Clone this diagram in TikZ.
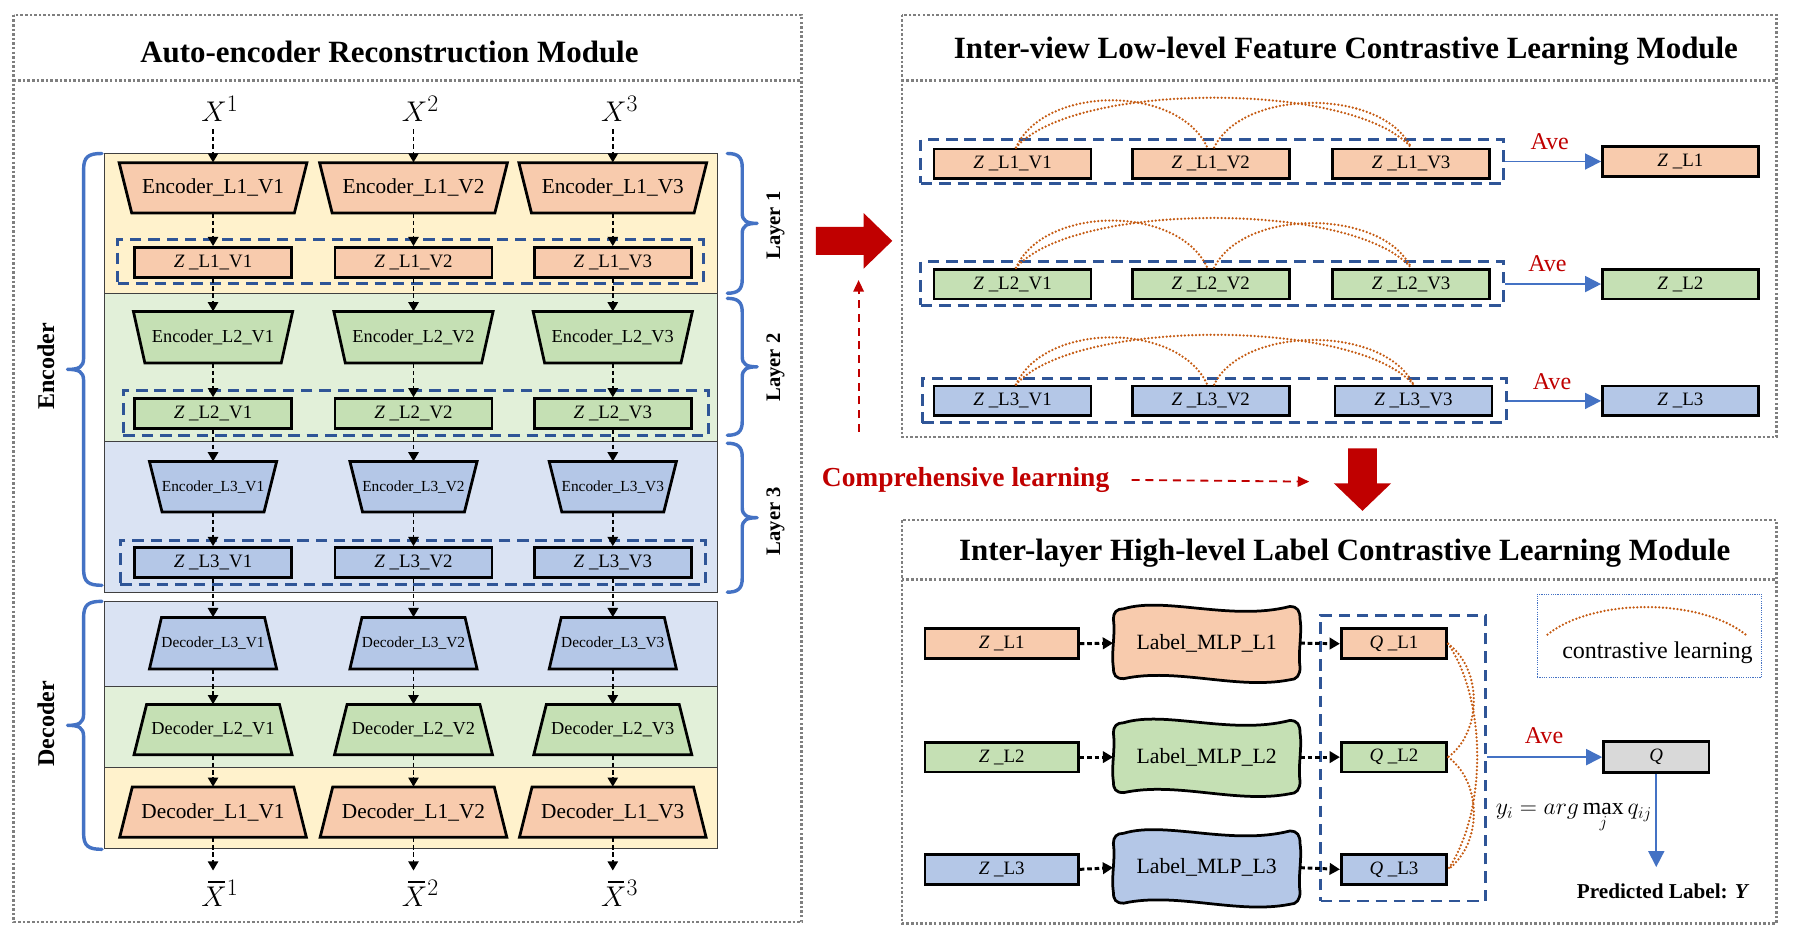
\documentclass[tikz,border=0pt]{standalone}
\usepackage{fontspec}
\setmainfont{Liberation Serif}
\usetikzlibrary{arrows.meta,calc}

\definecolor{peach}{HTML}{F8CBAD}
\definecolor{lgreen}{HTML}{C5E0B4}
\definecolor{lblue}{HTML}{B4C7E7}
\definecolor{bandY}{HTML}{FFF2CC}
\definecolor{bandG}{HTML}{E2F0D9}
\definecolor{bandB}{HTML}{DAE3F3}
\definecolor{dkblue}{HTML}{2F5597}
\definecolor{brblue}{HTML}{4472C4}
\definecolor{darkred}{HTML}{C00000}
\definecolor{orng}{HTML}{C55A11}
\definecolor{qgray}{HTML}{D9D9D9}
\definecolor{outgray}{HTML}{7F7F7F}

\tikzset{
 panel/.style={draw=outgray, line width=2.4pt, dash pattern=on 2.2pt off 1.8pt},
 band/.style={draw=black!75, line width=0.8pt},
 trapline/.style={draw=black, line width=2.4pt, line join=miter},
 zbox/.style={draw=black, line width=2.4pt, inner sep=0pt, minimum height=26pt, font=\fontsize{16.5}{18}\selectfont},
 grp/.style={draw=dkblue, line width=2.6pt, dash pattern=on 10pt off 6pt, inner sep=0pt},
 flow/.style={-{Triangle[length=8pt,width=9pt]}, line width=1.4pt, dash pattern=on 4pt off 2.5pt},
 thickflow/.style={-{Triangle[length=9pt,width=10pt]}, line width=2.6pt, dash pattern=on 4pt off 2.5pt},
 avearrow/.style={-{Triangle[length=14pt,width=14pt]}, draw=brblue, line width=1.5pt},
 bracepath/.style={draw=brblue, line width=3pt, line cap=round, line join=round},
 contra/.style={draw=orng, line width=2.2pt, dash pattern=on 0pt off 3.2pt, line cap=round},
 avetxt/.style={text=darkred, font=\fontsize{21}{24}\selectfont},
 titletxt/.style={font=\bfseries\fontsize{27}{30}\selectfont},
 layertxt/.style={font=\bfseries\fontsize{18}{20}\selectfont, rotate=90},
 sidetxt/.style={font=\bfseries\fontsize{21}{24}\selectfont, rotate=90},
 xlab/.style={font=\fontsize{24.88}{30}\selectfont, inner sep=0pt, anchor=base},
 barline/.style={draw=black, line width=1.3pt},
}

% trapezoid: name, cx, cy, top width, bottom width, height, fill, font size, text
\newcommand{\trapz}[9]{%
 \draw[trapline, fill=#7] ({#2-#4/2},{#3-#6/2}) -- ({#2+#4/2},{#3-#6/2}) -- ({#2+#5/2},{#3+#6/2}) -- ({#2-#5/2},{#3+#6/2}) -- cycle;
 \node[inner sep=0pt, minimum width=#4pt, minimum height=#6pt, font=\fontsize{#8}{#8}\selectfont] (#1) at (#2,#3) {#9};
}
% left brace: x, top, bottom
\newcommand{\leftbr}[3]{%
 \draw[bracepath] ({#1+16},#2) .. controls ({#1+4},#2) and (#1,{#2+3}) .. (#1,{#2+14}) -- (#1,{(#2+#3)/2-10}) .. controls (#1,{(#2+#3)/2-2}) and ({#1-4},{(#2+#3)/2}) .. ({#1-14},{(#2+#3)/2}) .. controls ({#1-4},{(#2+#3)/2}) and (#1,{(#2+#3)/2+2}) .. (#1,{(#2+#3)/2+10}) -- (#1,{#3-14}) .. controls (#1,{#3-3}) and ({#1+4},#3) .. ({#1+16},#3);
}
% right brace: x, top, bottom
\newcommand{\rightbr}[3]{%
 \draw[bracepath] ({#1-13},#2) .. controls ({#1-4},#2) and (#1,{#2+3}) .. (#1,{#2+12}) -- (#1,{(#2+#3)/2-9}) .. controls (#1,{(#2+#3)/2-2}) and ({#1+4},{(#2+#3)/2}) .. ({#1+13},{(#2+#3)/2}) .. controls ({#1+4},{(#2+#3)/2}) and (#1,{(#2+#3)/2+2}) .. (#1,{(#2+#3)/2+9}) -- (#1,{#3-12}) .. controls (#1,{#3-3}) and ({#1-4},#3) .. ({#1-13},#3);
}
% wavy MLP box: name, cx, cy, fill, text
\newcommand{\mlpbox}[5]{%
 \pgfmathsetmacro{\xa}{#2-81.5}\pgfmathsetmacro{\xb}{#2+81.5}%
 \pgfmathsetmacro{\ya}{#3-31}\pgfmathsetmacro{\yb}{#3+31}%
 \draw[trapline, line join=round, fill=#4] (\xa+9,\ya+1) .. controls (\xa+45,\ya-10) and (\xb-60,\ya+12) .. (\xb-9,\ya-1)
  .. controls (\xb-2,\ya-1) and (\xb,\ya+3) .. (\xb,\ya+10)
  .. controls (\xb+2,#3-8) and (\xb-2,#3+8) .. (\xb,\yb-10)
  .. controls (\xb,\yb-3) and (\xb-3,\yb+1) .. (\xb-9,\yb+1)
  .. controls (\xb-55,\yb+10) and (\xa+55,\yb-10) .. (\xa+9,\yb)
  .. controls (\xa+2,\yb) and (\xa,\yb-3) .. (\xa,\yb-10)
  .. controls (\xa-2,#3+8) and (\xa+2,#3-8) .. (\xa,\ya+10)
  .. controls (\xa,\ya+4) and (\xa+3,\ya+1) .. (\xa+9,\ya+1) -- cycle;
 \node[inner sep=0pt, minimum width=163pt, minimum height=62pt, font=\fontsize{19}{21}\selectfont] (#1) at (#2,#3) {#5};
}

\begin{document}
\begin{tikzpicture}[x=1pt,y=-1pt]
\useasboundingbox (0,0) rectangle (1568,819);
\fill[white] (0,0) rectangle (1568,819);

%================ LEFT PANEL =================
\draw[panel] (12,13) rectangle (700,805);
\draw[panel] (12,70) -- (700,70);
\node[titletxt] (t1) at (340,45) {Auto-encoder Reconstruction Module};

\draw[band, fill=bandY] (91.3,134) rectangle (626.5,256);
\draw[band, fill=bandG] (91.3,256) rectangle (626.5,385.6);
\draw[band, fill=bandB] (91.3,385.6) rectangle (626.5,517.2);
\draw[band, fill=bandB] (91.3,525.3) rectangle (626.5,599.5);
\draw[band, fill=bandG] (91.3,599.5) rectangle (626.5,670.2);
\draw[band, fill=bandY] (91.3,670.2) rectangle (626.5,740.6);

\node[grp, minimum width=511pt, minimum height=38.5pt] (g1) at (358.5,228.3) {};
\node[grp, minimum width=511pt, minimum height=39pt] (g2) at (363.3,360.5) {};
\node[grp, minimum width=511pt, minimum height=38.5pt] (g3) at (360.5,490.8) {};

% inputs
\node[xlab] (x1) at (192,106) {$X^1$};
\node[xlab] (x2) at (367,106) {$X^2$};
\node[xlab] (x3) at (541,106) {$X^3$};

% encoder L1
\trapz{e11}{186}{164}{164}{142}{44}{peach}{18.6}{Encoder\_L1\_V1}
\trapz{e12}{361}{164}{164}{142}{44}{peach}{18.6}{Encoder\_L1\_V2}
\trapz{e13}{535}{164}{164}{142}{44}{peach}{18.6}{Encoder\_L1\_V3}
\node[zbox, fill=peach, minimum width=137pt] (z11) at (186,229) {\textit{Z} \_L1\_V1};
\node[zbox, fill=peach, minimum width=137pt] (z12) at (361,229) {\textit{Z} \_L1\_V2};
\node[zbox, fill=peach, minimum width=137pt] (z13) at (535,229) {\textit{Z} \_L1\_V3};
% encoder L2
\trapz{e21}{186}{294.5}{139}{119}{45}{lgreen}{16}{Encoder\_L2\_V1}
\trapz{e22}{361}{294.5}{139}{119}{45}{lgreen}{16}{Encoder\_L2\_V2}
\trapz{e23}{535}{294.5}{139}{119}{45}{lgreen}{16}{Encoder\_L2\_V3}
\node[zbox, fill=lgreen, minimum width=137pt] (z21) at (186,361) {\textit{Z} \_L2\_V1};
\node[zbox, fill=lgreen, minimum width=137pt] (z22) at (361,361) {\textit{Z} \_L2\_V2};
\node[zbox, fill=lgreen, minimum width=137pt] (z23) at (535,361) {\textit{Z} \_L2\_V3};
% encoder L3
\trapz{e31}{186}{425}{111}{89}{44}{lblue}{13.4}{Encoder\_L3\_V1}
\trapz{e32}{361}{425}{111}{89}{44}{lblue}{13.4}{Encoder\_L3\_V2}
\trapz{e33}{535}{425}{111}{89}{44}{lblue}{13.4}{Encoder\_L3\_V3}
\node[zbox, fill=lblue, minimum width=137pt] (z31) at (186,491) {\textit{Z} \_L3\_V1};
\node[zbox, fill=lblue, minimum width=137pt] (z32) at (361,491) {\textit{Z} \_L3\_V2};
\node[zbox, fill=lblue, minimum width=137pt] (z33) at (535,491) {\textit{Z} \_L3\_V3};
% decoders
\trapz{d31}{186}{561.5}{90}{111}{45}{lblue}{13.4}{Decoder\_L3\_V1}
\trapz{d32}{361}{561.5}{90}{111}{45}{lblue}{13.4}{Decoder\_L3\_V2}
\trapz{d33}{535}{561.5}{90}{111}{45}{lblue}{13.4}{Decoder\_L3\_V3}
\trapz{d21}{186}{637}{116}{138}{44}{lgreen}{16}{Decoder\_L2\_V1}
\trapz{d22}{361}{637}{116}{138}{44}{lgreen}{16}{Decoder\_L2\_V2}
\trapz{d23}{535}{637}{116}{138}{44}{lgreen}{16}{Decoder\_L2\_V3}
\trapz{d11}{186}{709}{141}{163}{44}{peach}{18.6}{Decoder\_L1\_V1}
\trapz{d12}{361}{709}{141}{163}{44}{peach}{18.6}{Decoder\_L1\_V2}
\trapz{d13}{535}{709}{141}{163}{44}{peach}{18.6}{Decoder\_L1\_V3}

% outputs (X with a bar drawn above)
\node[xlab] (xb1) at (192,791) {$X^1$};
\node[xlab] (xb2) at (367,791) {$X^2$};
\node[xlab] (xb3) at (541,791) {$X^3$};

\foreach \k in {1,2,3}{
  \draw[flow] ($(e1\k.north |- x\k.base)+(0,7)$) -- (e1\k.north);
  \draw[flow] (e1\k.south) -- (z1\k.north);
  \draw[flow] (z1\k.south) -- (e2\k.north);
  \draw[flow] (e2\k.south) -- (z2\k.north);
  \draw[flow] (z2\k.south) -- (e3\k.north);
  \draw[flow] (e3\k.south) -- (z3\k.north);
  \draw[flow] (z3\k.south) -- (d3\k.north);
  \draw[flow] (d3\k.south) -- (d2\k.north);
  \draw[flow] (d2\k.south) -- (d1\k.north);
  \draw[flow] (d1\k.south) -- ($(d1\k.south |- xb\k.base)+(0,-31)$);
  \draw[barline] ($(xb\k.base)+(-10.5,-21)$) -- ++(14.5,0);
}

% braces
\leftbr{73}{134}{511}
\leftbr{73}{525}{741.5}
\node[sidetxt] (encl) at (40,320) {Encoder};
\node[sidetxt] (decl) at (40,632) {Decoder};
\rightbr{648}{134}{256}
\rightbr{648}{260.5}{380}
\rightbr{648}{387}{517}
\node[layertxt] (lay1) at (677,197) {Layer 1};
\node[layertxt] (lay2) at (677,321) {Layer 2};
\node[layertxt] (lay3) at (677,455) {Layer 3};

%================ TOP RIGHT PANEL =================
\draw[panel] (787.4,13) rectangle (1551,381.5);
\draw[panel] (787.4,70.5) -- (1551,70.5);
\node[titletxt] (t2) at (1175,45) {Inter-view Low-level Feature Contrastive Learning Module};

\node[grp, minimum width=509pt, minimum height=38pt] (h1) at (1058.5,141) {};
\node[grp, minimum width=509pt, minimum height=38pt] (h2) at (1058.5,247.5) {};
\node[grp, minimum width=510pt, minimum height=38.5pt] (h3) at (1060,349.8) {};

\node[zbox, fill=peach, minimum width=137pt] (v11) at (884,143) {\textit{Z} \_L1\_V1};
\node[zbox, fill=peach, minimum width=137pt] (v12) at (1057,143) {\textit{Z} \_L1\_V2};
\node[zbox, fill=peach, minimum width=137pt] (v13) at (1232,143) {\textit{Z} \_L1\_V3};
\node[zbox, fill=lgreen, minimum width=137pt] (v21) at (884,248) {\textit{Z} \_L2\_V1};
\node[zbox, fill=lgreen, minimum width=137pt] (v22) at (1057,248) {\textit{Z} \_L2\_V2};
\node[zbox, fill=lgreen, minimum width=137pt] (v23) at (1232,248) {\textit{Z} \_L2\_V3};
\node[zbox, fill=lblue, minimum width=137pt] (v31) at (884,350) {\textit{Z} \_L3\_V1};
\node[zbox, fill=lblue, minimum width=137pt] (v32) at (1057,350) {\textit{Z} \_L3\_V2};
\node[zbox, fill=lblue, minimum width=137pt] (v33) at (1234,350) {\textit{Z} \_L3\_V3};

\node[zbox, fill=peach, minimum width=136pt] (zl1) at (1467,141) {\textit{Z} \_L1};
\node[zbox, fill=lgreen, minimum width=136pt] (zl2) at (1467,248) {\textit{Z} \_L2};
\node[zbox, fill=lblue, minimum width=136pt] (zl3) at (1467,350) {\textit{Z} \_L3};

\node[avetxt] (ave1) at (1353,124) {Ave};
\node[avetxt] (ave2) at (1351,230) {Ave};
\node[avetxt] (ave3) at (1355,333) {Ave};
\draw[avearrow] (zl1 -| h1.east) -- (zl1.west);
\draw[avearrow] (zl2 -| h2.east) -- (zl2.west);
\draw[avearrow] (zl3 -| h3.east) -- (zl3.west);

\foreach \r in {1,2,3}{
  \draw[contra] ([xshift=3pt]v\r1.north) .. controls +(25,-55) and +(-25,-55) .. ([xshift=-3pt]v\r2.north);
  \draw[contra] ([xshift=3pt]v\r2.north) .. controls +(25,-52) and +(-25,-52) .. (v\r3.north);
  \draw[contra] ([xshift=3pt]v\r1.north) .. controls +(50,-58) and +(-50,-58) .. (v\r3.north);
}

% big red arrows and comprehensive learning
\fill[darkred] (712.3,198) -- (754,198) -- (754,186) -- (779,210.3) -- (754,234.5) -- (754,222.6) -- (712.3,222.6) -- cycle;
\fill[darkred] (1177,391.4) -- (1202,391.4) -- (1202,422) -- (1214.5,422) -- (1189.5,446) -- (1164.5,422) -- (1177,422) -- cycle;
\coordinate (cu0) at (749.6,377);
\coordinate (cu1) at (749.6,244.5);
\draw[darkred, line width=1.6pt, dash pattern=on 7pt off 5pt, -{Triangle[length=10pt,width=9pt]}] (cu0) -- (cu1);
\node[text=darkred, font=\bfseries\fontsize{24}{27}\selectfont] (cl) at (843,419) {Comprehensive learning};
\coordinate (cr1) at (1143,420.5);
\draw[darkred, line width=1.6pt, dash pattern=on 7pt off 5pt, -{Triangle[length=10pt,width=9pt]}] ([xshift=16pt]cl.east) -- (cr1);

%================ BOTTOM RIGHT PANEL =================
\draw[panel] (787.4,454) rectangle (1551,806);
\draw[panel] (787.4,506) -- (1551,506);
\node[titletxt] (t3) at (1174,483) {Inter-layer High-level Label Contrastive Learning Module};

\node[grp, minimum width=144pt, minimum height=249.6pt] (gq) at (1225,661.8) {};

\node[zbox, fill=peach, minimum width=134pt] (zb1) at (874.5,562) {\textit{Z} \_L1};
\node[zbox, fill=lgreen, minimum width=134pt] (zb2) at (874.5,661) {\textit{Z} \_L2};
\node[zbox, fill=lblue, minimum width=134pt] (zb3) at (874.5,759) {\textit{Z} \_L3};

\mlpbox{m1}{1053.5}{561.5}{peach}{Label\_MLP\_L1}
\mlpbox{m2}{1053.5}{661}{lgreen}{Label\_MLP\_L2}
\mlpbox{m3}{1053.5}{757.5}{lblue}{Label\_MLP\_L3}

\node[zbox, fill=peach, minimum width=92pt] (q1) at (1217,562) {\textit{Q} \_L1};
\node[zbox, fill=lgreen, minimum width=92pt] (q2) at (1217,661) {\textit{Q} \_L2};
\node[zbox, fill=lblue, minimum width=92pt] (q3) at (1217,759) {\textit{Q} \_L3};

\foreach \r in {1,2,3}{
  \draw[thickflow] (zb\r.east) -- (m\r.west);
  \draw[thickflow] (m\r.east) -- (q\r.west);
}

\draw[contra] (q1.east) .. controls +(30,22) and +(30,-22) .. (q2.east);
\draw[contra] (q2.east) .. controls +(30,22) and +(30,-22) .. (q3.east);
\draw[contra] (q1.east) .. controls +(34,50) and +(34,-50) .. (q3.east);

\node[zbox, fill=qgray, minimum width=92pt, minimum height=27pt] (qf) at (1446,661) {\textit{Q}};
\node[avetxt] (ave4) at (1348,642) {Ave};
\draw[avearrow] (qf -| gq.east) -- (qf.west);
\coordinate (pd) at (1446,757);
\draw[avearrow] (qf.south) -- (pd);
\node[font=\fontsize{20.74}{24}\selectfont, inner sep=0pt] (form) at (1374,714) {$y_i = arg\max\limits_{\lower2pt\hbox{$\scriptstyle j$}} q_{ij}$};
\node[font=\bfseries\fontsize{18.5}{21}\selectfont] (pred) at (1452,778.5) {Predicted Label: \textit{Y}};

% legend
\node[draw=brblue, line width=1pt, dash pattern=on 1pt off 1pt, inner sep=0pt, minimum width=196pt, minimum height=72.7pt] (legend) at (1440,555) {};
\coordinate (la) at (1351,554);
\coordinate (lb) at (1524,554);
\draw[contra] (la) .. controls +(40,-32) and +(-40,-32) .. (lb);
\node[font=\fontsize{21}{24}\selectfont] (legtxt) at (1447,570) {contrastive learning};

\end{tikzpicture}
\end{document}
